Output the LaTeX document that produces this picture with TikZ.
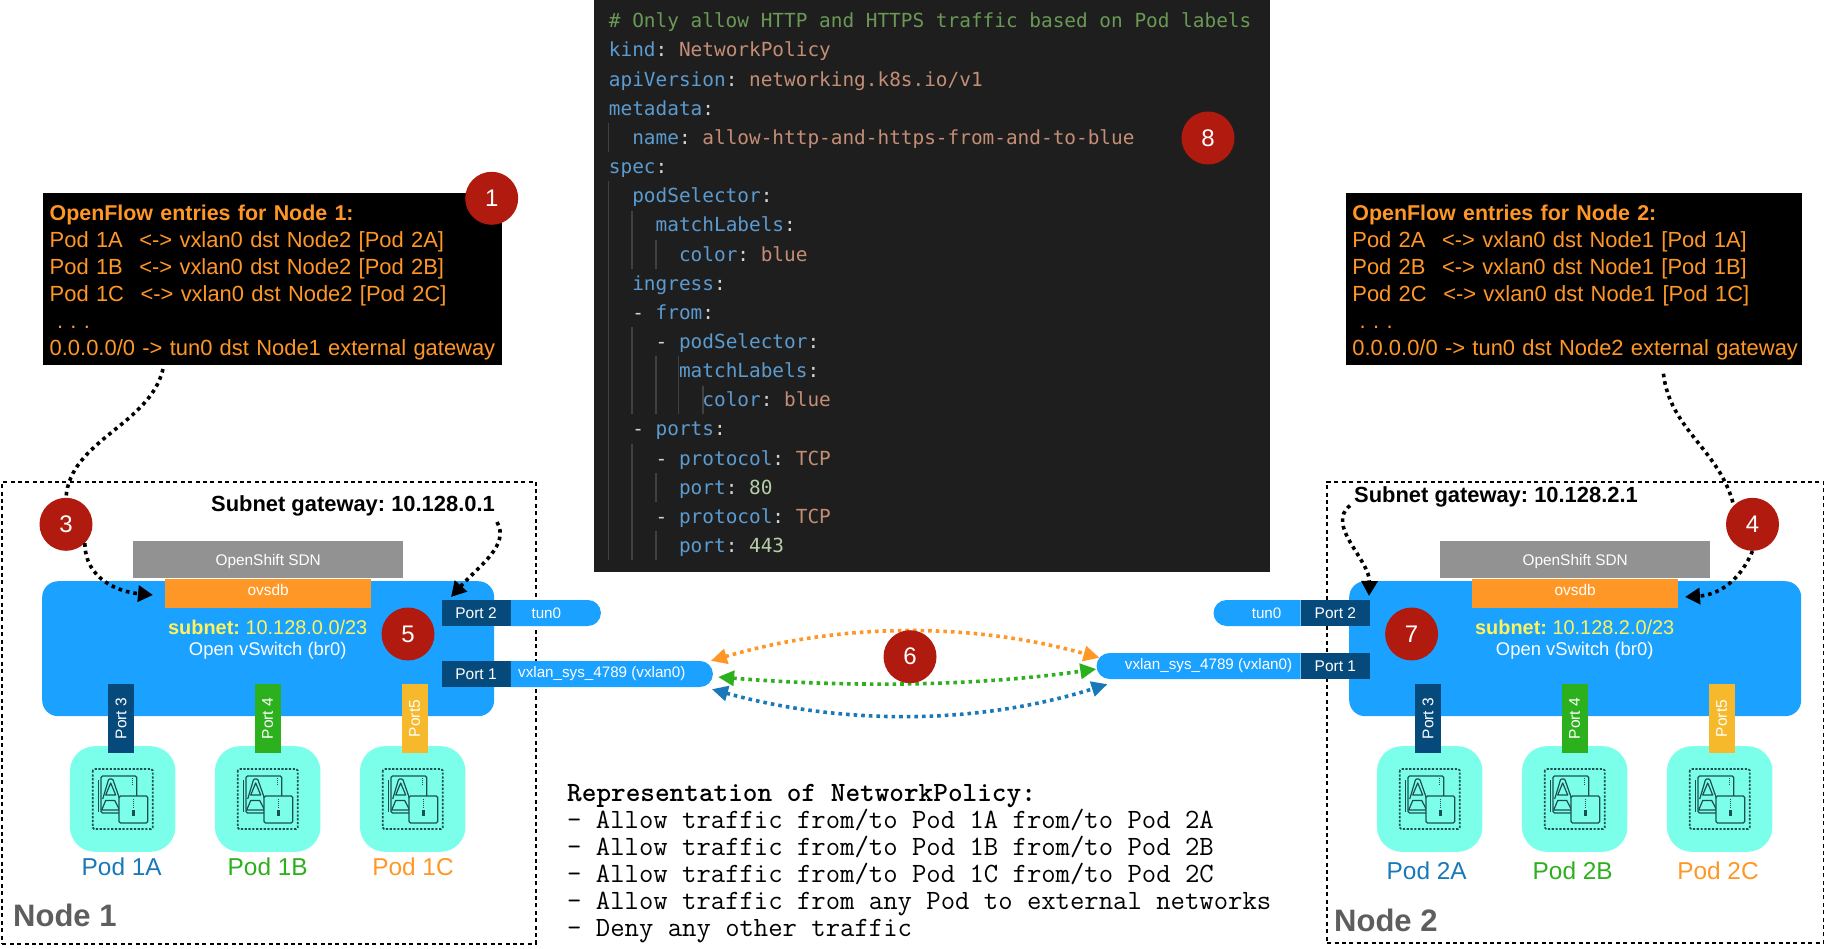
\documentclass[tikz,border=0pt]{standalone}
\usepackage{fontspec}
\setmainfont{Liberation Sans}
\newfontfamily\codefont{DejaVu Sans Mono}
\usetikzlibrary{arrows.meta,positioning,shapes.misc,calc}
\frenchspacing

\definecolor{ovsblue}{HTML}{1BA1FF}
\definecolor{portdark}{HTML}{064A7C}
\definecolor{podteal}{HTML}{7CFFEA}
\definecolor{linkorange}{HTML}{FF9726}
\definecolor{linkgreen}{HTML}{2DB01E}
\definecolor{linkblue}{HTML}{1878B8}
\definecolor{portyellow}{HTML}{F6B92B}
\definecolor{sdngray}{HTML}{929292}
\definecolor{badgered}{HTML}{B11A0F}
\definecolor{nodegray}{HTML}{5E5E5E}
\definecolor{subnetyellow}{HTML}{FFF35C}
\definecolor{codebg}{HTML}{1E1E1E}
\definecolor{codekey}{HTML}{5C9BD0}
\definecolor{codestr}{HTML}{C48E76}
\definecolor{codenum}{HTML}{B5CEA8}
\definecolor{codecmt}{HTML}{6A9955}
\definecolor{codepun}{HTML}{D4D4D4}
\definecolor{codeguide}{HTML}{414141}
\definecolor{icondark}{HTML}{1C5050}

\newcommand{\fsize}[1]{\fontsize{#1}{#1}\selectfont}
\newcommand{\ck}[1]{\textcolor{codekey}{#1}\textcolor{codepun}{:}}
\newcommand{\cs}[1]{\textcolor{codestr}{#1}}
\newcommand{\cn}[1]{\textcolor{codenum}{#1}}
\newcommand{\cd}{\textcolor{codepun}{-}}

\tikzset{
  flowbox/.style={fill=black,text=linkorange,inner sep=0pt,minimum height=171.7pt,anchor=north west,align=left,
    font=\fontsize{21.93}{27}\selectfont},
  nodebox/.style={draw,dashed,line width=1.8pt,dash pattern=on 4pt off 3.4pt,anchor=north west,inner sep=0pt},
  ovsbox/.style={fill=ovsblue,rounded corners=16pt,anchor=north west,inner sep=0pt,minimum width=452pt,minimum height=135pt},
  barbox/.style={text=white,inner sep=0pt,font=\fsize{15.4},anchor=north west},
  portbox/.style={fill=portdark,text=white,inner sep=0pt,minimum width=69pt,minimum height=26pt,font=\fsize{15.5}},
  pillbox/.style={rounded rectangle,fill=ovsblue,text=white,inner sep=0pt,minimum height=26pt,font=\fsize{15.2}},
  upport/.style={rotate=90,text=white,inner sep=0pt,minimum width=69pt,minimum height=26pt,font=\fsize{15.5}},
  podbox/.style={fill=podteal,rounded corners=25pt,inner sep=0pt,minimum width=105.5pt,minimum height=105.7pt},
  badge/.style={circle,fill=badgered,text=white,inner sep=0pt,minimum size=53pt,font=\fsize{24}},
  dotlink/.style={line width=3.6pt,dash pattern=on 3.6pt off 4pt},
  dottip/.style={dotlink,-{Triangle[length=15pt,width=16pt]}},
  twotip/.style={dotlink,{Triangle[length=16pt,width=15pt]}-{Triangle[length=16pt,width=15pt]}},
  guide/.style={draw=codeguide,line width=1.1pt},
  podicon/.pic={
    \draw[icondark,line width=1.7pt,dash pattern=on 2.2pt off 1.6pt,rounded corners=1.5pt] (-30,-30) rectangle (30,30);
    \draw[icondark,line width=1.1pt] (-24,-19) -- (-24,13);
    \draw[icondark,line width=1.2pt,rounded corners=1.5pt] (-21.7,-23) rectangle (14,14);
    \draw[icondark,line width=1.2pt,rounded corners=1pt] (-20,0) -- (-14,-20) -- (-10,-20) -- (-3,0);
    \draw[icondark,line width=1.2pt,line join=round] (-12,-16) -- (-17,-4) -- (-7,-4) -- cycle;
    \draw[icondark,line width=1.2pt,line join=round] (-17,1.5) -- (-8,1.5) -- (-3,11) -- (-21,11) -- cycle;
    \draw[icondark,line width=1.2pt,fill=podteal,rounded corners=1.5pt] (-3.7,-3) rectangle (25,24);
    \draw[icondark,line width=1pt,dash pattern=on 1pt off 1pt] (10,-21) -- (10,-13);
    \draw[icondark,line width=1pt,dash pattern=on 1pt off 1pt] (10.7,0) -- (10.7,10);
    \fill[icondark] (9,10.5) rectangle (12.7,17);
  }
}

\begin{document}
\begin{tikzpicture}[x=1pt,y=-1pt]
    \useasboundingbox (0,0) rectangle (1825,949);
    % code panel
    \node[fill=codebg,anchor=north west,inner sep=0pt,minimum width=676pt,minimum height=572pt] (codepanel) at (593.6,0) {};
    \node[anchor=north west,inner sep=0pt,align=left,font=\codefont\fontsize{19.4}{29.15}\selectfont] (codetext) at (608.75,12.8) {%
      \textcolor{codecmt}{\# Only allow HTTP and HTTPS traffic based on Pod labels}\\
      \ck{kind} \cs{NetworkPolicy}\\
      \ck{apiVersion} \cs{networking.k8s.io/v1}\\
      \ck{metadata}\\
      \ \ \ck{name} \cs{allow-http-and-https-from-and-to-blue}\\
      \ck{spec}\\
      \ \ \ck{podSelector}\\
      \ \ \ \ \ck{matchLabels}\\
      \ \ \ \ \ \ \ck{color} \cs{blue}\\
      \ \ \ck{ingress}\\
      \ \ \cd{} \ck{from}\\
      \ \ \ \ \cd{} \ck{podSelector}\\
      \ \ \ \ \ \ \ck{matchLabels}\\
      \ \ \ \ \ \ \ \ \ck{color} \cs{blue}\\
      \ \ \cd{} \ck{ports}\\
      \ \ \ \ \cd{} \ck{protocol} \cs{TCP}\\
      \ \ \ \ \ \ \ck{port} \cn{80}\\
      \ \ \ \ \cd{} \ck{protocol} \cs{TCP}\\
      \ \ \ \ \ \ \ck{port} \cn{443}};
    \foreach \gx/\first/\last in {608.75/4/4,608.75/6/18,632/7/8,632/11/13,632/15/18,656/8/8,656/12/13,656/16/16,656/18/18,678.8/12/13,703/13/13}
      \draw[guide] (\gx,{21+29.15*\first-14.4}) -- (\gx,{21+29.15*\last+14.4});

    % flow tables
    \foreach \nd/\fx/\fw/\self/\peer in {one/43/458.7/1/2,two/1345.7/456.3/2/1}
      \node[flowbox,minimum width=\fw pt,text width=\fw pt-13pt] (flow\nd) at (\fx,193) {%
        \rule{0pt}{22pt}{\fontsize{21.4}{27}\selectfont\textbf{OpenFlow entries for Node \self:}}\\
        Pod \self A\hspace{16.5pt}<-> vxlan0 dst Node\peer{} [Pod \peer A]\\
        Pod \self B\hspace{16.5pt}<-> vxlan0 dst Node\peer{} [Pod \peer B]\\
        Pod \self C\hspace{16.5pt}<-> vxlan0 dst Node\peer{} [Pod \peer C]\\
        \ . . .\\
        \mbox{0.0.0.0/0 -> tun0 dst Node\self{} external gateway}};

    % node frames
    \node[nodebox,minimum width=533.6pt,minimum height=462pt] (nodeone) at (1.4,480.7) {};
    \node[nodebox,minimum width=496.3pt,minimum height=461.6pt] (nodetwo) at (1326.3,480.7) {};
    \node[text=nodegray,font=\bfseries\fsize{31},inner sep=0pt,anchor=west] (labelone) at (13,915) {Node 1};
    \node[text=nodegray,font=\bfseries\fsize{31},inner sep=0pt,anchor=west] (labeltwo) at (1334,920) {Node 2};
    \node[font=\bfseries\fsize{21.9},inner sep=0pt,anchor=west] (gateone) at (211,505.5) {Subnet gateway: 10.128.0.1};
    \node[font=\bfseries\fsize{21.9},inner sep=0pt,anchor=west] (gatetwo) at (1354,497) {Subnet gateway: 10.128.2.1};

    % switch, sdn and pods of both nodes
    \foreach \nd/\dx/\net/\laby/\labdx/\aa/\bb/\cc in {one/0/10.128.0.0/866.7/0/1A/1B/1C,two/1307/10.128.2.0/870.7/-2/2A/2B/2C} {
      \node[ovsbox] (br\nd) at (42+\dx,581) {};
      \node[barbox,fill=sdngray,minimum width=270pt,minimum height=37pt] (sdn\nd) at (133+\dx,541) {\raisebox{-6pt}[0pt][0pt]{OpenShift SDN}};
      \node[barbox,fill=linkorange,minimum width=205.5pt,minimum height=29pt,below=0pt of sdn\nd] (ovsdb\nd) {\raisebox{-2.3pt}[0pt][0pt]{ovsdb}};
      \node[text=subnetyellow,inner sep=0pt,font=\fsize{19.9}] (subnet\nd) at (267.7+\dx,627.7) {\textbf{subnet:} \net/23};
      \node[text=white,inner sep=0pt,font=\fsize{18.4}] (switch\nd) at (267.7+\dx,651) {Open vSwitch (br0)};
      \foreach \sl/\px/\ux/\lx/\pod/\col/\pname/\pcol in {a/122.7/121/121.7/\aa/linkblue/Port 3/portdark,b/267.7/267.6/267.7/\bb/linkgreen/Port 4/linkgreen,c/412.7/414.6/413/\cc/linkorange/Port5/portyellow} {
        \node[podbox] (pod\nd\sl) at (\px+\dx,799) {};
        \pic at (pod\nd\sl) {podicon};
        \node[text=\col,inner sep=0pt,font=\fsize{24.4}] (podlab\nd\sl) at (\lx+\dx+\labdx,\laby) {Pod \pod};
        \node[upport,fill=\pcol] (up\nd\sl) at (\ux+\dx,718.5) {\pname};
      }
    }

    % ports towards the outside
    \node[portbox] (porttwoone) at (476,613) {Port 2};
    \node[portbox] (portoneone) at (476,674) {Port 1};
    \node[pillbox,rounded rectangle west arc=none,minimum width=90pt,right=0pt of porttwoone] (tunone) {\hspace*{-18pt}tun0};
    \node[pillbox,rounded rectangle west arc=none,minimum width=202pt,right=0pt of portoneone] (vxlanone) {\hspace*{-18pt}vxlan\_sys\_4789 (vxlan0)};
    \node[portbox] (porttwotwo) at (1335.4,613) {Port 2};
    \node[portbox] (portonetwo) at (1335.4,666) {Port 1};
    \node[pillbox,rounded rectangle east arc=none,minimum width=87pt,left=0pt of porttwotwo] (tuntwo) {\hspace*{18pt}tun0};
    \node[pillbox,rounded rectangle east arc=none,minimum width=204pt,left=0pt of portonetwo] (vxlantwo) {\hspace*{18pt}vxlan\_sys\_4789 (vxlan0)};

    % free ends of the dotted links
    \coordinate (flowoneout) at (163,369);
    \coordinate (flowtwoout) at (1663.4,373.7);
    \coordinate (ovsdboneend) at (153,595);
    \coordinate (ovsdbtwoend) at (1685,597);
    \coordinate (gateoneout) at (497,522);
    \coordinate (gatetwoout) at (1350,505.6);
    \coordinate (portoneend) at (451,597);
    \coordinate (porttwoend) at (1369,596);

    % vxlan traffic
    \draw[twotip,linkorange] ($(vxlanone.north east)+(11,0)$) .. controls +(130,-38) and +(-130,-36) .. ($(vxlantwo.north west)+(-10,5)$);
    \draw[twotip,linkgreen] ($(vxlanone.east)+(5,3)$) .. controls +(125,10) and +(-125,18) .. ($(vxlantwo.west)+(0,3)$);
    \draw[twotip,linkblue] ($(vxlanone.south east)+(12,2)$) .. controls +(130,36) and +(-130,41) .. ($(vxlantwo.south west)+(-2,5)$);

    % badges
    \node[badge] (badgeone) at (491.7,198.3) {1};
    \node[badge] (badgethree) at (66,524.3) {3};
    \node[badge] (badgefive) at (408,634) {5};
    \node[badge] (badgefour) at (1752.5,524.3) {4};
    \node[badge] (badgeseven) at (1411.6,634) {7};
    \node[badge] (badgesix) at (910,656.7) {6};
    \node[badge] (badgeeight) at (1208,138) {8};

    \draw[dotlink] (flowoneout) .. controls (150,425) and (70,440) .. (badgethree.north);
    \draw[dottip] (badgethree.south east) .. controls (85,580) and (120,592) .. (ovsdboneend);
    \draw[dottip] (gateoneout) .. controls (510,545) and (480,565) .. (portoneend);
    \draw[dotlink] (flowtwoout) .. controls (1670,430) and (1720,450) .. (badgefour.north west);
    \draw[dottip] (badgefour.south) .. controls (1738,585) and (1715,595) .. (ovsdbtwoend);
    \draw[dottip] (gatetwoout) .. controls (1325,525) and (1370,560) .. (porttwoend);

    % policy summary
    \node[anchor=north west,inner sep=0pt,align=left,font=\ttfamily\fontsize{27.9}{27}\selectfont] (policytext) at (567,784) {%
      \textbf{Representation of NetworkPolicy:}\\
      - Allow traffic from/to Pod 1A from/to Pod 2A\\
      - Allow traffic from/to Pod 1B from/to Pod 2B\\
      - Allow traffic from/to Pod 1C from/to Pod 2C\\
      - Allow traffic from any Pod to external networks\\
      - Deny any other traffic};
\end{tikzpicture}
\end{document}
